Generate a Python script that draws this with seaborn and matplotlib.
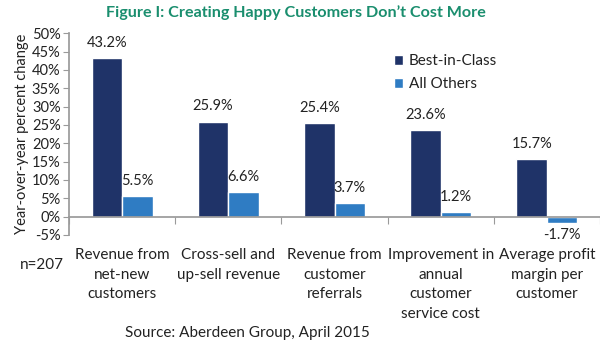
import matplotlib
matplotlib.use("Agg")
import matplotlib.pyplot as plt
import matplotlib.transforms as mtransforms
from matplotlib.patches import Patch
import seaborn as sns
import pandas as pd

categories = ["Revenue from\nnet-new\ncustomers", "Cross-sell and\nup-sell revenue",
              "Revenue from\ncustomer\nreferrals", "Improvement in\nannual\ncustomer\nservice cost",
              "Average profit\nmargin per\ncustomer"]
best_in_class = [43.2, 25.9, 25.4, 23.6, 15.7]
all_others = [5.5, 6.6, 3.7, 1.2, -1.7]
series_names = ["Best-in-Class", "All Others"]
y_ticks = [-5, 0, 5, 10, 15, 20, 25, 30, 35, 40, 45, 50]

colors = ["#1F3368", "#2F7CC3"]
txt = "#222222"

sns.set_theme(style="white")
plt.rcParams['font.family'] = ['Lato', 'DejaVu Sans']

df = pd.DataFrame({
    "cat": categories * 2,
    "series": [series_names[0]] * 5 + [series_names[1]] * 5,
    "value": best_in_class + all_others,
})

fig = plt.figure(figsize=(6.0, 3.46), dpi=100)
ax = fig.add_axes([0.115, 0.321, 0.885, 0.583])

sns.barplot(data=df, x="cat", y="value", hue="series", palette=colors,
            width=0.575, saturation=1, ax=ax, legend=False, errorbar=None)

ax.set_xlim(-0.5, 4.5)
ax.set_ylim(-5, 50)
ax.set_yticks(y_ticks)
ax.set_yticklabels([f"{v}%" for v in y_ticks], fontsize=10.5, color=txt)
ax.set_xlabel("")
ax.set_ylabel("Year-over-year percent change", fontsize=10.5, color=txt, labelpad=2)

for s in ["top", "right"]:
    ax.spines[s].set_visible(False)
ax.spines["left"].set_color("#9a9a9a")
ax.spines["bottom"].set_color("#9a9a9a")
ax.spines["bottom"].set_position(("data", 0))
ax.tick_params(axis="y", direction="out", length=4, color="#9a9a9a", width=0.8, pad=2, left=True)
ax.set_xticks([0, 1, 2, 3, 4])
ax.set_xticklabels([])
ax.set_xticks([-0.5, 0.5, 1.5, 2.5, 3.5, 4.5], minor=True)
ax.tick_params(axis="x", which="major", length=0, bottom=False)
ax.tick_params(axis="x", which="minor", direction="out", length=5, color="#9a9a9a", width=0.8, bottom=True)

# value labels
for cont in ax.containers:
    for bar in cont:
        h = bar.get_height()
        x = bar.get_x() + bar.get_width() / 2
        if h >= 0:
            ax.annotate(f"{h:.1f}%", (x, h), xytext=(0, 6), textcoords="offset points",
                        ha="center", va="bottom", fontsize=10.5, color=txt)
        else:
            ax.annotate(f"{h:.1f}%", (x, h), xytext=(0, -4), textcoords="offset points",
                        ha="center", va="top", fontsize=10.5, color=txt, annotation_clip=False)

# category labels
trans = mtransforms.blended_transform_factory(ax.transData, ax.transAxes)
for i, c in enumerate(categories):
    ax.text(i, -0.065, c, transform=trans, ha="center", va="top", fontsize=11,
            color=txt, linespacing=1.5)

fig.text(0.033, 0.234, "n=207", fontsize=11, color=txt, ha="left", va="center")
fig.text(0.208, 0.038, "Source: Aberdeen Group, April 2015", fontsize=11, color=txt,
         ha="left", va="center")
fig.text(0.494, 0.963, "Figure I: Creating Happy Customers Don\u2019t Cost More",
         fontsize=11.6, fontweight="bold", color="#1A8E6E", ha="center", va="center")

handles = [Patch(facecolor=colors[0]), Patch(facecolor=colors[1])]
fig.legend(handles, series_names, loc="upper left", bbox_to_anchor=(0.633, 0.883),
           frameon=False, fontsize=11, handlelength=0.65, handleheight=0.65,
           handletextpad=0.35, labelspacing=0.6, labelcolor=txt)

fig.savefig("out.png", dpi=100)
